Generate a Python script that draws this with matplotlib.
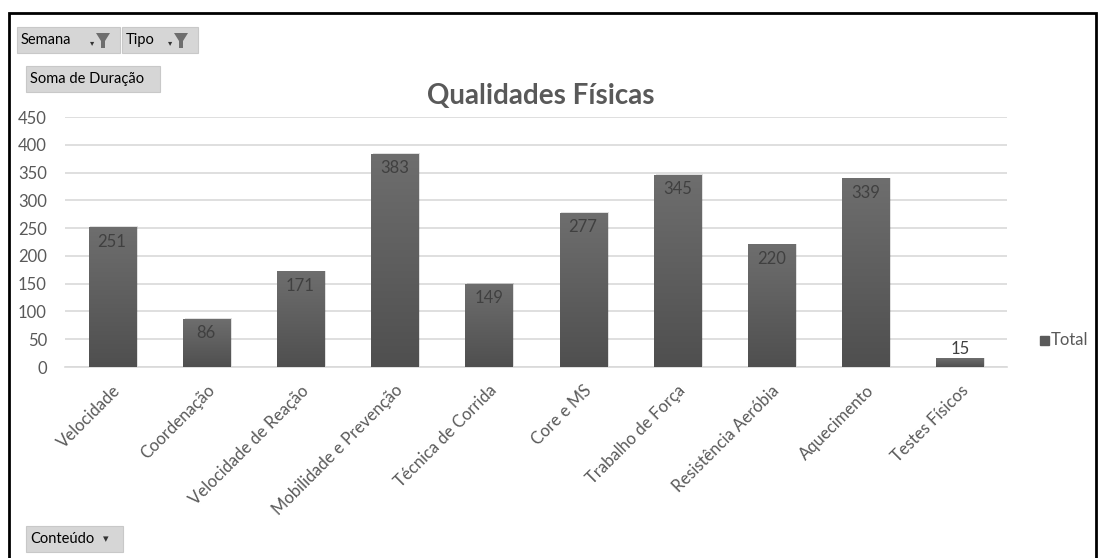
import matplotlib.pyplot as plt
import numpy as np
from matplotlib.patches import Rectangle, Polygon, FancyBboxPatch

plt.rcParams['font.family'] = ['Lato', 'DejaVu Sans']

categorias = ['Velocidade', 'Coordenação', 'Velocidade de Reação', 'Mobilidade e Prevenção',
              'Técnica de Corrida', 'Core e MS', 'Trabalho de Força', 'Resistência Aeróbia',
              'Aquecimento', 'Testes Físicos']
duracao = [251, 86, 171, 383, 149, 277, 345, 220, 339, 15]
y_ticks = [0, 50, 100, 150, 200, 250, 300, 350, 400, 450]

W, H = 1098, 558
fig = plt.figure(figsize=(W / 100, H / 100), dpi=100)

def fx(px):
    return px / W

def fy(py):
    return 1 - py / H

# moldura do gráfico dinâmico
fig.patches.append(Rectangle((fx(9), fy(560)), fx(1087), fy(13) - fy(560),
                             transform=fig.transFigure, fill=False, lw=2, ec='black'))

ax = fig.add_axes([fx(65), fy(367), fx(1007) - fx(65), fy(117) - fy(367)])
x = np.arange(len(categorias))
largura = 0.5

# gradiente vertical das barras (mais claro no topo)
grad = np.linspace(0, 1, 256).reshape(-1, 1)
cmap = plt.matplotlib.colors.LinearSegmentedColormap.from_list('g', ['#4f4f4f', '#6e6e6e'])
for xi, v in zip(x, duracao):
    # sombra leve
    ax.add_patch(Rectangle((xi - largura / 2 + 0.02, 0), largura, v + 2, color='#000000',
                           alpha=0.12, lw=0, zorder=2))
    ax.imshow(grad, extent=(xi - largura / 2, xi + largura / 2, 0, v), origin='lower',
              cmap=cmap, aspect='auto', zorder=3)
ax.set_xlim(-0.5, len(categorias) - 0.5)
ax.set_ylim(0, 450)
ax.set_aspect('auto')

for xi, v in zip(x, duracao):
    if v > 40:
        ax.text(xi, v - 11, str(v), ha='center', va='top', fontsize=12, color='#404040', zorder=4)
    else:
        ax.text(xi, v + 3, str(v), ha='center', va='bottom', fontsize=12, color='#404040', zorder=4)

ax.set_yticks(y_ticks)
ax.set_yticklabels([str(t) for t in y_ticks], fontsize=12, color='#595959')
ax.set_xticks(x)
ax.set_xticklabels(categorias, rotation=45, ha='right', rotation_mode='anchor',
                   fontsize=12, color='#595959')
ax.tick_params(axis='y', length=0, pad=13)
ax.tick_params(axis='x', length=0, pad=11)
ax.grid(axis='y', color='#d9d9d9', lw=1.2, zorder=0)
ax.set_axisbelow(True)
for lado in ['top', 'right', 'left']:
    ax.spines[lado].set_visible(False)
ax.spines['bottom'].set_color('#d9d9d9')
ax.spines['bottom'].set_linewidth(1.2)

fig.text(fx(541), fy(96), 'Qualidades Físicas', ha='center', va='center',
         fontsize=20, fontweight='bold', color='#595959')

# legenda
fig.patches.append(Rectangle((fx(1040), fy(345)), fx(9), fy(336) - fy(345),
                             transform=fig.transFigure, color='#5a5a5a'))
fig.text(fx(1051), fy(340), 'Total', ha='left', va='center', fontsize=12, color='#595959')

# botões de campo
def botao(x0, y0, x1, y1, texto, seta=False, filtro=False):
    fig.patches.append(FancyBboxPatch((fx(x0), fy(y1)), fx(x1 - x0), fy(y0) - fy(y1),
                                      boxstyle='square,pad=0', transform=fig.transFigure,
                                      fc='#d6d6d6', ec='#c8c8c8', lw=0.8))
    fig.text(fx(x0 + 4), fy((y0 + y1) / 2), texto, ha='left', va='center',
             fontsize=10.5, color='black')
    if filtro:
        cx = x1 - 18
        fig.text(fx(cx - 10), fy((y0 + y1) / 2 + 3), '▾', ha='center', va='center',
                 fontsize=6, color='#333333')
        fig.patches.append(Polygon([(fx(cx - 6), fy(y0 + 6)), (fx(cx + 8), fy(y0 + 6)),
                                    (fx(cx + 3), fy(y0 + 14)), (fx(cx + 3), fy(y1 - 5)),
                                    (fx(cx - 1), fy(y1 - 5)), (fx(cx - 1), fy(y0 + 14))],
                                   closed=True, transform=fig.transFigure,
                                   fc='#6e6e6e', ec='none'))
    if seta:
        fig.text(fx(x1 - 17), fy((y0 + y1) / 2), '▾', ha='center', va='center',
                 fontsize=8, color='#333333')

botao(17, 27, 120, 53, 'Semana', filtro=True)
botao(122, 27, 198, 53, 'Tipo', filtro=True)
botao(26, 66, 160, 92, 'Soma de Duração')
botao(26, 526, 123, 552, 'Conteúdo', seta=True)

fig.savefig('out.png', dpi=100)
